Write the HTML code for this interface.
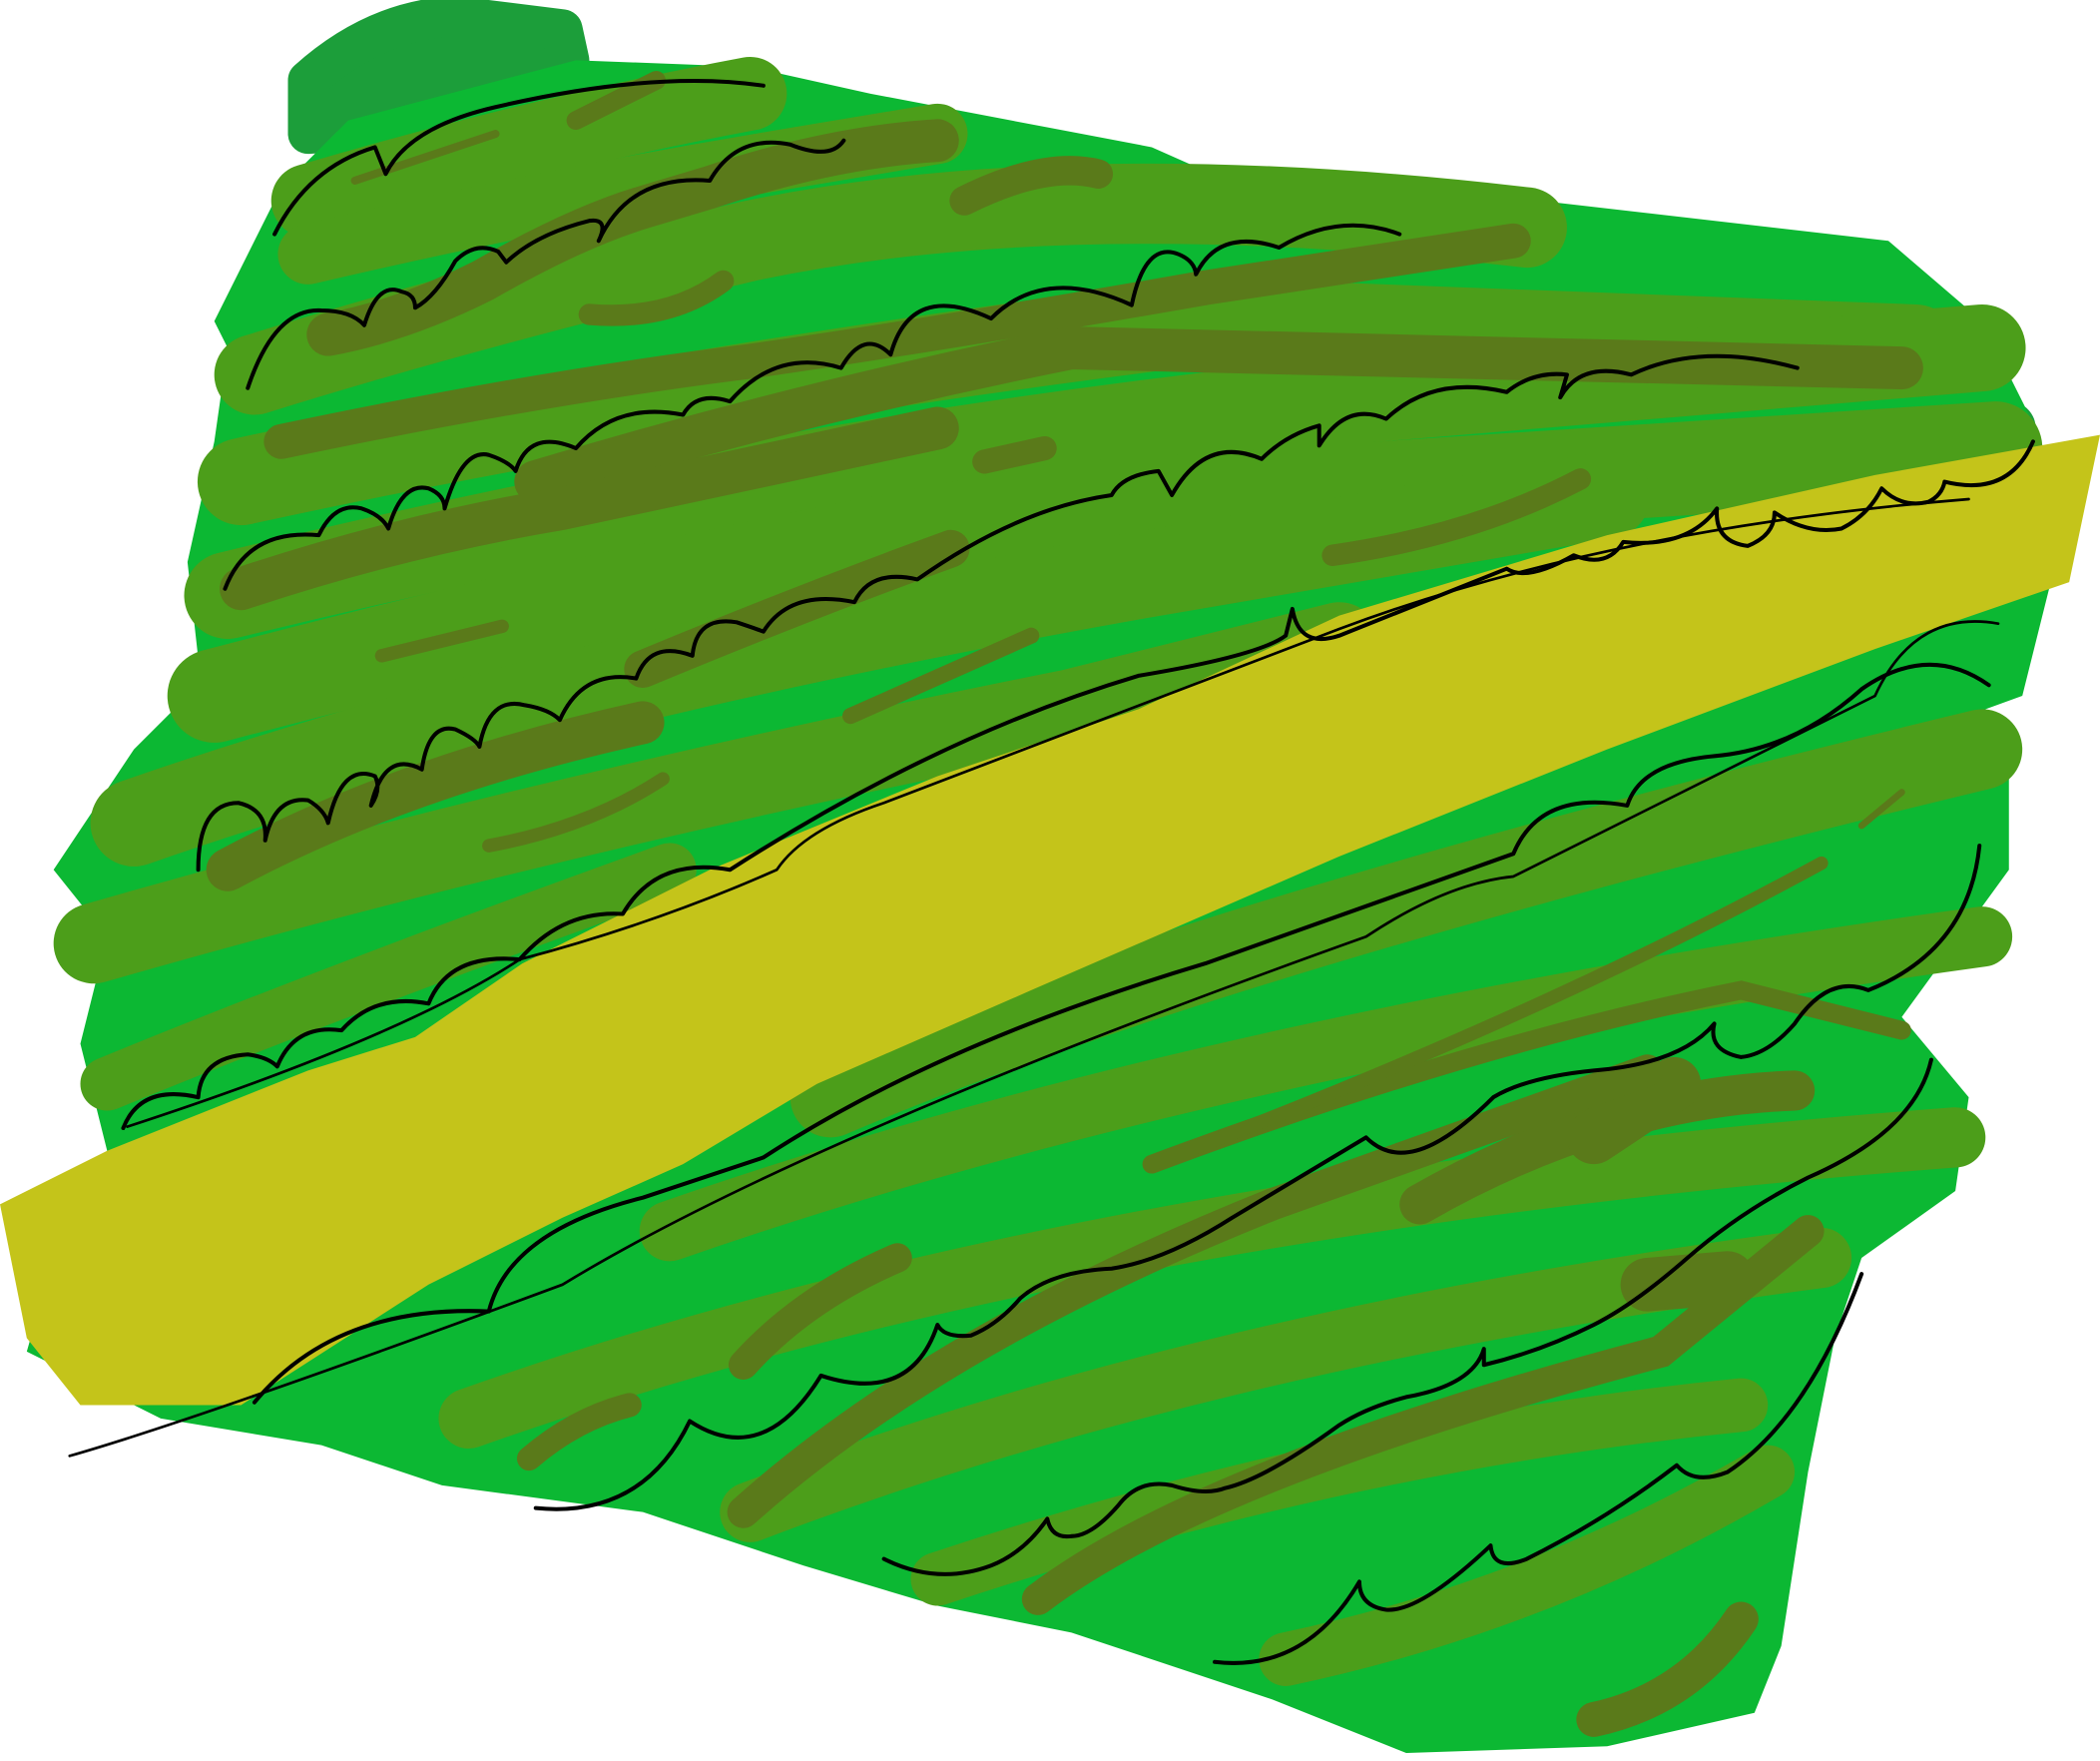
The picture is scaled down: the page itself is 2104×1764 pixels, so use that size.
<!DOCTYPE html>
<html><head><meta charset="utf-8"><style>
html,body{margin:0;padding:0;background:#fff;}
svg{display:block;}
</style></head><body>
<svg width="2104" height="1764" viewBox="0 0 1568 1316" preserveAspectRatio="none" xmlns="http://www.w3.org/2000/svg">
<g stroke-linecap="round" stroke-linejoin="round">
 <path fill="#1c9e3a" stroke="#1c9e3a" stroke-width="30" d="M230 60 Q280 15 340 12 L420 22 L425 45 L300 95 L230 100 Z"/>
 <path fill="none" stroke="#1c9e3a" stroke-width="40" d="M180 420 Q400 380 700 300 L1500 320"/>
 <path fill="#0cb833" stroke="none" d="M210 140 L260 90 L430 45 L560 50 L650 70 L860 110 L950 150 L1150 150 L1410 180 L1480 240 L1520 320 L1480 420 L1530 440 L1510 520 L1400 560 L1500 580 L1500 650 L1420 760 L1470 820 L1460 890 L1390 940 L1370 1000 L1350 1100 L1330 1230 L1310 1280 L1200 1305 L1050 1310 L950 1270 L800 1220 L700 1200 L600 1170 L480 1130 L330 1110 L240 1080 L120 1060 L20 1010 L40 940 L80 860 L60 780 L80 700 L40 650 L100 560 L150 510 L140 420 L160 330 L170 260 L160 240 Z"/>
</g>
<g stroke="#4c9e1a" stroke-linecap="round" fill="none">
 <path d="M230 150 Q400 100 560 70" stroke-width="55"/>
 <path d="M230 190 Q400 150 580 120 L700 100" stroke-width="45"/>
 <path d="M190 280 Q350 230 560 180 Q800 130 1140 170" stroke-width="60"/>
 <path d="M180 360 Q500 290 900 240 L1430 260" stroke-width="65"/>
 <path d="M170 445 Q600 340 1000 300 L1480 260" stroke-width="65"/>
 <path d="M160 520 Q500 430 800 380 L1490 335" stroke-width="70"/>
 <path d="M100 615 Q400 510 850 430 L1200 370" stroke-width="65"/>
 <path d="M70 705 Q400 610 800 530 L1000 480" stroke-width="60"/>
 <path d="M80 810 Q250 740 500 650" stroke-width="40"/>
 <path d="M620 820 Q900 700 1480 560" stroke-width="60"/>
 <path d="M500 920 Q900 780 1480 700" stroke-width="45"/>
 <path d="M350 1060 Q800 900 1460 850" stroke-width="45"/>
 <path d="M560 1130 Q900 1000 1360 940" stroke-width="45"/>
 <path d="M700 1180 Q1000 1080 1300 1050" stroke-width="40"/>
 <path d="M960 1240 Q1150 1200 1320 1100" stroke-width="40"/>
</g>
<polygon fill="#c4c41a" points="1568,325 1545,435 1400,485 1200,560 1000,640 770,740 610,810 510,870 420,910 320,960 180,1050 60,1050 20,1000 0,900 80,860 230,800 310,775 390,720 530,650 700,580 850,530 1000,460 1200,400 1400,355"/>
<g stroke="#5a7a1a" stroke-linecap="round" fill="none">
 <path d="M430 90 L490 60" stroke-width="14"/>
 <path d="M265 135 L370 100" stroke-width="6"/>
 <path d="M720 150 Q780 120 820 130" stroke-width="22"/>
 <path d="M440 235 Q500 240 540 210" stroke-width="16"/>
 <path d="M245 250 Q300 240 360 210 Q430 170 480 155 L530 140 Q620 110 700 105" stroke-width="32"/>
 <path d="M210 330 Q400 290 560 270 Q700 250 900 215 L1130 180" stroke-width="26"/>
 <path d="M400 360 Q600 300 800 260 L1420 275" stroke-width="32"/>
 <path d="M735 345 L780 335" stroke-width="18"/>
 <path d="M180 440 Q300 400 420 380 L700 320" stroke-width="32"/>
 <path d="M995 415 Q1100 400 1180 358" stroke-width="16"/>
 <path d="M285 490 L375 468" stroke-width="10"/>
 <path d="M480 500 Q600 450 710 410" stroke-width="28"/>
 <path d="M635 535 L770 475" stroke-width="12"/>
 <path d="M170 650 Q300 580 480 540" stroke-width="32"/>
 <path d="M365 632 Q440 618 495 582" stroke-width="10"/>
 <path d="M1390 617 L1420 592" stroke-width="5"/>
 <path d="M860 870 Q1100 780 1300 740 L1420 770" stroke-width="14"/>
 <path d="M1060 900 Q1200 820 1340 815" stroke-width="30"/>
 <path d="M1190 850 L1250 810" stroke-width="40"/>
 <path d="M860 870 Q1150 760 1360 645" stroke-width="10"/>
 <path d="M555 1130 Q700 1000 950 900 L1230 800" stroke-width="24"/>
 <path d="M775 1195 Q900 1100 1240 1010 L1350 920" stroke-width="24"/>
 <path d="M395 1090 Q430 1060 470 1050" stroke-width="18"/>
 <path d="M555 1020 Q600 970 670 940" stroke-width="22"/>
 <path d="M1190 1285 Q1260 1270 1300 1210" stroke-width="26"/>
 <path d="M1230 960 L1290 955" stroke-width="40"/>
</g>
<g stroke="#000" fill="none" stroke-linecap="round" stroke-linejoin="round">
 <path stroke-width="3" d="M205 175 Q230 125 280 110 L288 130 Q305 95 370 80 Q490 52 570 64"/>
 <path stroke-width="3" d="M185 290 Q205 230 240 232 Q262 232 272 243 Q282 210 300 218 Q310 220 310 230 Q325 222 340 195 Q355 180 372 188 L378 196 Q400 175 440 165 Q455 163 447 180 Q470 130 530 135 Q550 100 590 108 Q620 120 630 105"/>
 <path stroke-width="3" d="M168 440 Q185 395 238 400 Q250 375 270 380 Q285 385 290 395 Q300 360 320 365 Q332 370 332 380 Q345 335 365 340 Q380 345 385 352 Q395 320 430 335 Q460 300 510 310 Q520 292 545 300 Q580 260 628 275 Q645 245 665 265 Q680 210 740 238 Q780 198 845 228 Q855 180 880 190 Q892 195 893 205 Q910 170 955 185 Q1000 158 1045 175"/>
 <path stroke-width="3" d="M148 650 Q148 600 178 600 Q200 605 198 628 Q205 595 230 598 Q242 605 245 615 Q255 570 280 580 Q285 590 277 602 Q287 560 315 575 Q320 540 340 545 Q355 552 358 558 Q365 520 392 527 Q410 530 418 538 Q435 500 475 507 Q485 478 517 490 Q520 460 550 465 Q565 470 570 472 Q590 440 638 450 Q650 425 685 433 Q760 380 830 370 Q838 355 865 352 L875 370 Q900 325 942 343 Q960 325 985 318 L985 333 Q1005 300 1035 313 Q1070 280 1125 293 Q1145 277 1170 280 L1165 297 Q1180 270 1218 280 Q1270 255 1342 275"/>
 <path stroke-width="3" d="M92 843 Q105 810 148 820 Q150 790 185 788 Q200 790 207 797 Q220 765 255 770 Q280 742 320 750 Q335 712 388 717 Q420 680 465 683 Q490 640 545 650 Q700 550 850 505 Q940 490 960 475 L965 455 Q970 485 1000 475 L1125 425 Q1140 435 1175 415 Q1200 425 1212 405 Q1260 410 1282 380 Q1280 405 1305 408 Q1325 400 1325 383 Q1350 400 1375 395 Q1395 385 1405 365 Q1420 380 1440 375 Q1450 370 1452 360 Q1500 372 1518 330"/>
 <path stroke-width="2" d="M95 842 Q300 775 388 717 Q490 690 580 650 Q600 620 660 600 L1000 470 Q1200 395 1470 373"/>
 <path stroke-width="3" d="M190 1048 Q250 975 365 980 Q380 920 480 895 L570 865 Q700 780 900 720 L1130 638 Q1150 590 1215 602 Q1225 570 1280 565 Q1340 560 1390 515 Q1440 480 1485 512"/>
 <path stroke-width="2" d="M52 1088 Q150 1060 420 960 Q600 850 1020 700 Q1080 660 1130 655 L1400 520 Q1430 455 1492 466"/>
 <path stroke-width="3" d="M400 1127 Q480 1135 515 1062 Q570 1098 613 1028 Q680 1050 700 990 Q705 1000 725 998 Q745 990 762 970 Q785 950 830 948 Q870 942 920 910 L1020 850 Q1040 870 1070 855 Q1090 845 1115 820 Q1140 805 1190 800 Q1255 795 1280 765 Q1275 785 1300 790 Q1320 788 1340 765 Q1365 728 1395 740 Q1470 710 1478 632"/>
 <path stroke-width="3" d="M660 1165 Q700 1185 740 1170 Q765 1160 782 1135 Q785 1150 800 1148 Q815 1148 835 1125 Q850 1105 875 1110 Q900 1118 915 1112 Q945 1105 1000 1065 Q1020 1052 1050 1044 Q1100 1035 1108 1008 L1108 1020 Q1150 1010 1190 990 Q1220 975 1260 940 Q1300 905 1350 880 Q1430 845 1442 792"/>
 <path stroke-width="3" d="M907 1242 Q975 1250 1015 1182 Q1015 1200 1035 1203 Q1060 1205 1113 1155 Q1115 1175 1140 1165 Q1200 1135 1252 1095 Q1265 1110 1290 1100 Q1350 1060 1390 952"/>
</g>
</svg>
</body></html>
